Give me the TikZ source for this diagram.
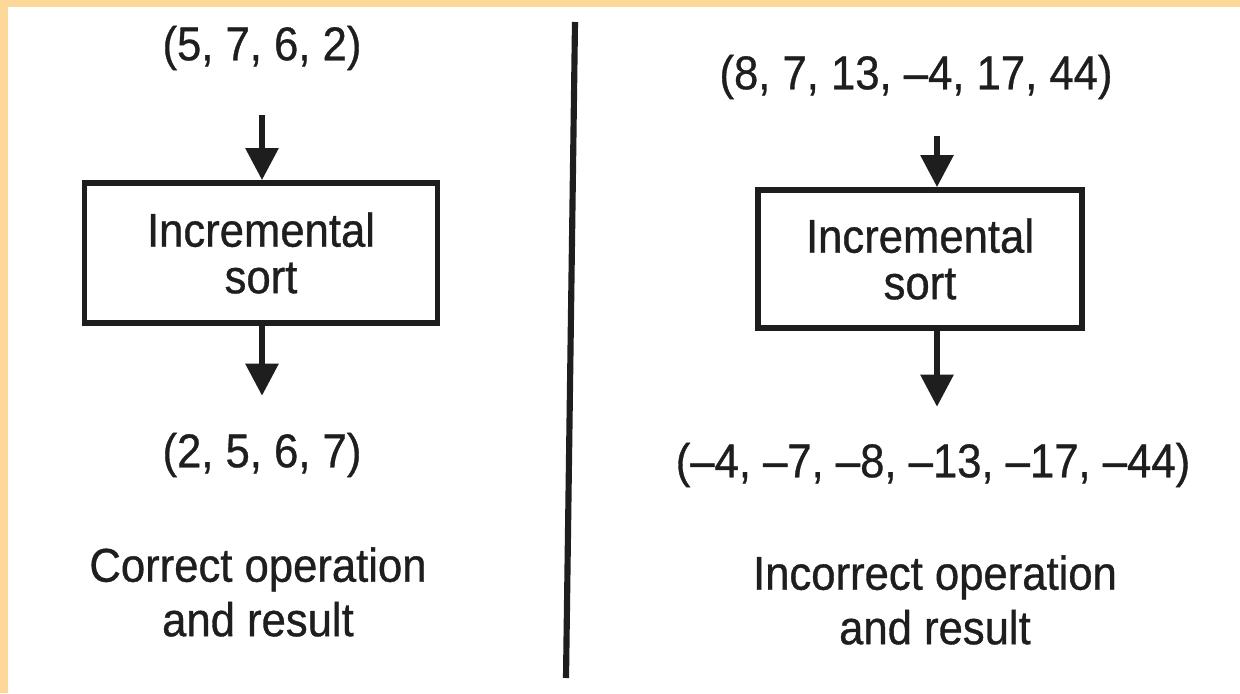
\documentclass[tikz,border=0pt]{standalone}
\usepackage{fontspec}
\setmainfont{Liberation Sans}[FakeBold=0.7, FakeStretch=0.92]
\usetikzlibrary{positioning, arrows.meta, calc}

\definecolor{framepeach}{RGB}{253,216,152}
\definecolor{inkgray}{RGB}{30,30,30}

\begin{document}
\begin{tikzpicture}[
                x=0.02cm, y=-0.02cm,
                >={Triangle[length=0.64cm, width=0.64cm]},
                font=\fontsize{27}{29}\selectfont,
                every node/.style={text=inkgray},
                flow/.style={->, draw=inkgray, line width=3.3pt},
                sortbox/.style={draw=inkgray, line width=3.3pt, minimum width=7.06cm,
                                minimum height=2.8cm, align=center, inner sep=0pt,
                                font=\fontsize{27}{26.5}\selectfont},
                caption/.style={align=center, font=\fontsize{27}{31}\selectfont}
            ]
                % --- 画布与边框 ---
                \useasboundingbox (0,0) rectangle (1240,693);
                \fill[framepeach] (0,0) rectangle (1240,693);
                \fill[white] (8,7) rectangle (1240,693);

                % --- 左侧: 正确的操作 ---
                \node (inL) at (262,48) {(5, 7, 6, 2)};
                \node[sortbox] (sortL) at (261,253) {Incremental\\sort};
                \node (outL) at (262,455) {(2, 5, 6, 7)};
                \node[caption] (noteL) at (258,592) {Correct operation\\and result};

                \draw[flow, shorten <=0.78cm] (inL.south) -- (inL.south |- sortL.north);
                \draw[flow, shorten >=0.62cm] (sortL.south -| outL.north) -- (outL.north);

                % --- 分隔线 ---
                \coordinate (divTop) at (575,22);
                \coordinate (divBot) at (566,678);
                \draw[inkgray, line width=3.5pt] (divTop) -- (divBot);

                % --- 右侧: 错误的操作 ---
                \node (inR) at (916,77) {(8, 7, 13, –4, 17, 44)};
                \node[sortbox, minimum width=6.48cm, minimum height=2.76cm] (sortR) at (920,259) {Incremental\\sort};
                \node (outR) at (933,465) {(–4, –7, –8, –13, –17, –44)};
                \node[caption] (noteR) at (935,600) {Incorrect operation\\and result};

                \coordinate (arrR) at (937,0);
                \draw[flow, shorten <=0.62cm] (arrR |- inR.south) -- (arrR |- sortR.north);
                \draw[flow, shorten >=0.6cm] (arrR |- sortR.south) -- (arrR |- outR.north);

            \end{tikzpicture}
\end{document}
